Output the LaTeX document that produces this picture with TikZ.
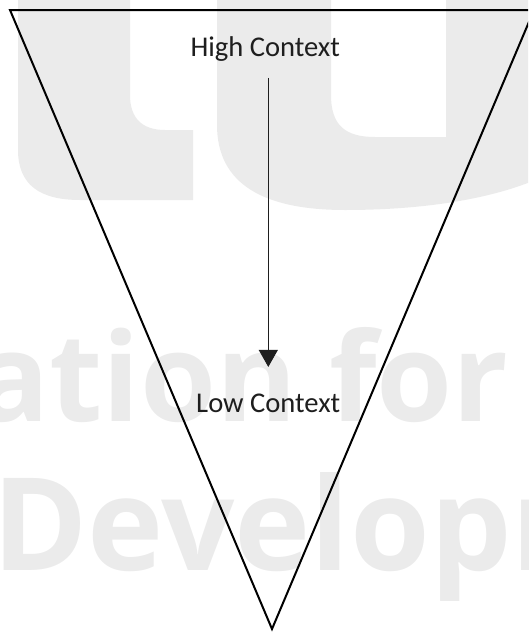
\documentclass[tikz,border=0pt]{standalone}
\usepackage{fontspec}
\setmainfont{Carlito}
\newfontfamily\wmfont{Open Sans}
\usetikzlibrary{arrows.meta}
\definecolor{wmgray}{RGB}{235,235,235}
\definecolor{ink}{RGB}{30,30,30}
\tikzset{
  watermark/.style={inner sep=0pt, anchor=base west, text=wmgray},
  wmshape/.style={fill=wmgray, draw=none},
  label/.style={inner sep=0pt, anchor=base, text=ink, font=\fontsize{28.6}{30}\selectfont},
  funnel/.style={draw=black, line width=2pt, line join=miter},
  flow/.style={draw=ink, line width=1pt, -{Triangle[width=19pt,length=17pt]}}
}
\begin{document}
\begin{tikzpicture}[x=1pt,y=-1pt]
  \useasboundingbox (0,0) rectangle (528,632);
  \begin{scope}
    \clip (0,0) rectangle (528,632);
    % faint background lettering: feet of two giant letters at the top
    \path[wmshape] (18,-5) -- (18,150) .. controls (18,185) and (40,200) .. (80,200)
      -- (193,200) -- (193,130) -- (165,130) .. controls (142,130) and (130,118) .. (130,95)
      -- (130,-5) -- cycle;
    \path[wmshape, even odd rule]
      (217,-5) -- (217,125) .. controls (217,185) and (265,210) .. (345,210)
      .. controls (420,210) and (490,200) .. (540,178) -- (540,-5) -- cycle
      (331,-5) -- (331,95) .. controls (331,125) and (345,137) .. (375,137)
      -- (446,137) -- (446,-5) -- cycle;
    \node[watermark, font=\wmfont\bfseries\fontsize{123}{123}\selectfont] (wmmid) at (-25,421) {ation for};
    \node[watermark, font=\wmfont\bfseries\fontsize{129}{129}\selectfont] (wmbot) at (-8,570) {Developm};
    % inverted triangle
    \coordinate (tl) at (10,10);
    \coordinate (tr) at (534,10);
    \coordinate (apex) at (272,629);
    \draw[funnel] (tl) -- (tr) -- (apex) -- cycle;
  \end{scope}
  \node[label] (high) at (265.3,56.7) {High Context};
  \node[label] (low) at (268.3,412.7) {Low Context};
  \draw[flow, shorten <=16pt, shorten >=27pt] (high.south -| low.south) -- (low.north);
\end{tikzpicture}
\end{document}
